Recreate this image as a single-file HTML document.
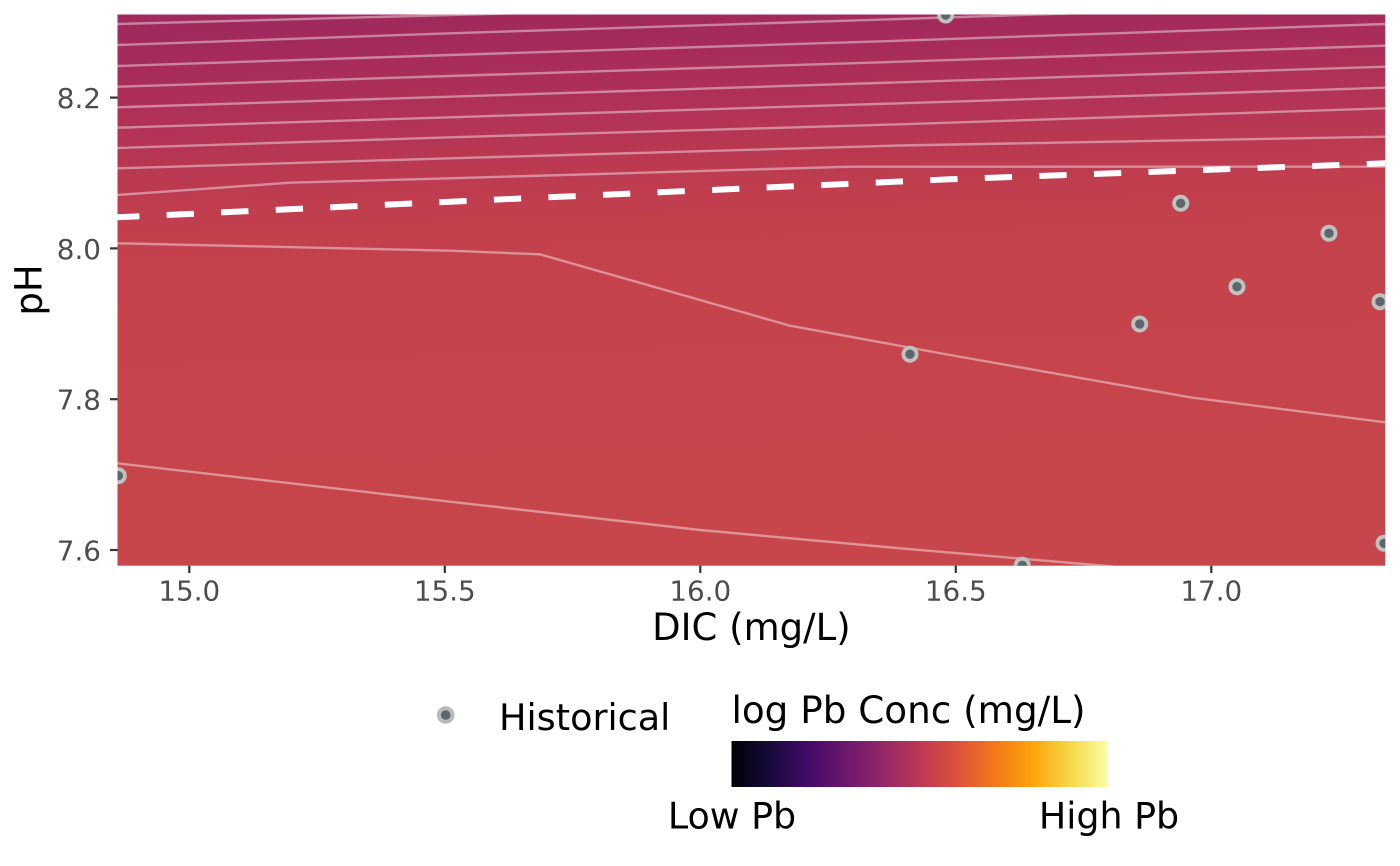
<!DOCTYPE html>
<html>
<head>
<meta charset="utf-8">
<style>
  html, body { margin: 0; padding: 0; background: #ffffff; }
  svg { display: block; }
  text { font-family: "DejaVu Sans", "Liberation Sans", sans-serif; }
</style>
</head>
<body>
<svg width="1400" height="866" viewBox="0 0 1400 866" xmlns="http://www.w3.org/2000/svg">
  <defs>
    <linearGradient id="bg" gradientUnits="userSpaceOnUse" x1="700" y1="14" x2="719" y2="566">
      <stop offset="0" stop-color="#A0295D"/>
      <stop offset="0.047" stop-color="#A52B5C"/>
      <stop offset="0.12" stop-color="#AC2F58"/>
      <stop offset="0.192" stop-color="#B33455"/>
      <stop offset="0.264" stop-color="#BA3951"/>
      <stop offset="0.318" stop-color="#BF3D4E"/>
      <stop offset="0.39" stop-color="#C3414C"/>
      <stop offset="0.52" stop-color="#C5434B"/>
      <stop offset="1" stop-color="#C7464B"/>
    </linearGradient>
    <linearGradient id="inferno" x1="0" y1="0" x2="1" y2="0">
      <stop offset="0" stop-color="#000004"/>
      <stop offset="0.1" stop-color="#160B39"/>
      <stop offset="0.2" stop-color="#420A68"/>
      <stop offset="0.3" stop-color="#6A176E"/>
      <stop offset="0.4" stop-color="#932667"/>
      <stop offset="0.5" stop-color="#BC3754"/>
      <stop offset="0.6" stop-color="#DD513A"/>
      <stop offset="0.7" stop-color="#F37819"/>
      <stop offset="0.8" stop-color="#FCA50A"/>
      <stop offset="0.9" stop-color="#F6D746"/>
      <stop offset="1" stop-color="#FCFFA4"/>
    </linearGradient>
    <clipPath id="panel">
      <rect x="117.5" y="14.5" width="1267.8" height="551.2"/>
    </clipPath>
  </defs>

  <!-- Panel background -->
  <rect x="117.5" y="14.5" width="1267.8" height="551.2" fill="url(#bg)"/>

  <g clip-path="url(#panel)">
    <!-- contour lines -->
    <g fill="none" stroke="#ffffff" stroke-opacity="0.42" stroke-width="2.4" stroke-linejoin="round">
      <polyline points="117.5,24 450,15 600,11"/>
      <polyline points="117.5,45 450,33.3 900,19 1100,12.5"/>
      <polyline points="117.5,66 450,55 900,40.7 1385.3,24"/>
      <polyline points="117.5,86.7 450,76 900,61.7 1385.3,45.7"/>
      <polyline points="117.5,107.3 450,96.7 900,82.3 1385.3,66.7"/>
      <polyline points="117.5,127.7 450,117.3 900,103.3 1385.3,87.7"/>
      <polyline points="117.5,148 450,137.3 900,124.3 1385.3,108.3"/>
      <polyline points="117.5,168.3 450,158.3 900,145.5 1385.3,136.7"/>
      <polyline points="117.5,195 290,182.7 450,178.3 850,166.7 1385.3,166.7"/>
      <polyline points="117.5,243.3 450,250.7 540,254.3 790,325.7 950,355 1190,397.3 1385.3,422.3"/>
      <polyline points="117.5,463.3 450,501.7 700,530 900,548.3 1113,566.5"/>
    </g>

    <!-- dashed threshold line -->
    <polyline points="112.1,217.55 450,201.7 950,179.3 1390,163.1" fill="none" stroke="#ffffff" stroke-width="6" stroke-dasharray="27.3 27.3"/>

    <!-- Historical points -->
    <g fill="#5F666B" stroke="#C0C1C1" stroke-width="3.8">
      <circle cx="945.7" cy="15" r="6.6"/>
      <circle cx="1180.7" cy="203.3" r="6.6"/>
      <circle cx="1329" cy="233.3" r="6.6"/>
      <circle cx="1237" cy="286.7" r="6.6"/>
      <circle cx="1380" cy="301.7" r="6.6"/>
      <circle cx="1139.7" cy="324" r="6.6"/>
      <circle cx="910" cy="354.2" r="6.6"/>
      <circle cx="118.3" cy="475.7" r="6.6"/>
      <circle cx="1022.3" cy="565.3" r="6.6"/>
      <circle cx="1384" cy="543.3" r="6.6"/>
    </g>
  </g>

  <!-- Axis ticks -->
  <g stroke="#333333" stroke-width="2.2">
    <line x1="110" y1="97.6" x2="117.5" y2="97.6"/>
    <line x1="110" y1="248.4" x2="117.5" y2="248.4"/>
    <line x1="110" y1="399.2" x2="117.5" y2="399.2"/>
    <line x1="110" y1="550" x2="117.5" y2="550"/>
    <line x1="189.3" y1="565.7" x2="189.3" y2="573"/>
    <line x1="444.8" y1="565.7" x2="444.8" y2="573"/>
    <line x1="700.3" y1="565.7" x2="700.3" y2="573"/>
    <line x1="955.8" y1="565.7" x2="955.8" y2="573"/>
    <line x1="1211.3" y1="565.7" x2="1211.3" y2="573"/>
  </g>

  <!-- Y tick labels -->
  <g font-size="27.8" fill="#4D4D4D" text-anchor="end">
    <text x="101" y="108">8.2</text>
    <text x="101" y="258.8">8.0</text>
    <text x="101" y="409.6">7.8</text>
    <text x="101" y="560.4">7.6</text>
  </g>

  <!-- X tick labels -->
  <g font-size="27.8" fill="#4D4D4D" text-anchor="middle">
    <text x="189.3" y="600.5">15.0</text>
    <text x="444.8" y="600.5">15.5</text>
    <text x="700.3" y="600.5">16.0</text>
    <text x="955.8" y="600.5">16.5</text>
    <text x="1211.3" y="600.5">17.0</text>
  </g>

  <!-- Axis titles -->
  <text x="751.4" y="640" font-size="37" fill="#000000" text-anchor="middle">DIC (mg/L)</text>
  <text transform="translate(41.7,290) rotate(-90)" font-size="37" fill="#000000" text-anchor="middle">pH</text>

  <!-- Legend: Historical -->
  <circle cx="445.7" cy="715" r="6.8" fill="#5F666B" stroke="#B9BABB" stroke-width="4"/>
  <text x="499" y="730" font-size="36.6" fill="#000000">Historical</text>

  <!-- Legend: colorbar -->
  <text x="731.5" y="723" font-size="37.3" fill="#000000">log Pb Conc (mg/L)</text>
  <rect x="731.5" y="741" width="376.5" height="46" fill="url(#inferno)"/>
  <text x="732" y="828.3" font-size="36.4" fill="#000000" text-anchor="middle">Low Pb</text>
  <text x="1109" y="828.3" font-size="36.4" fill="#000000" text-anchor="middle">High Pb</text>
</svg>
</body>
</html>
